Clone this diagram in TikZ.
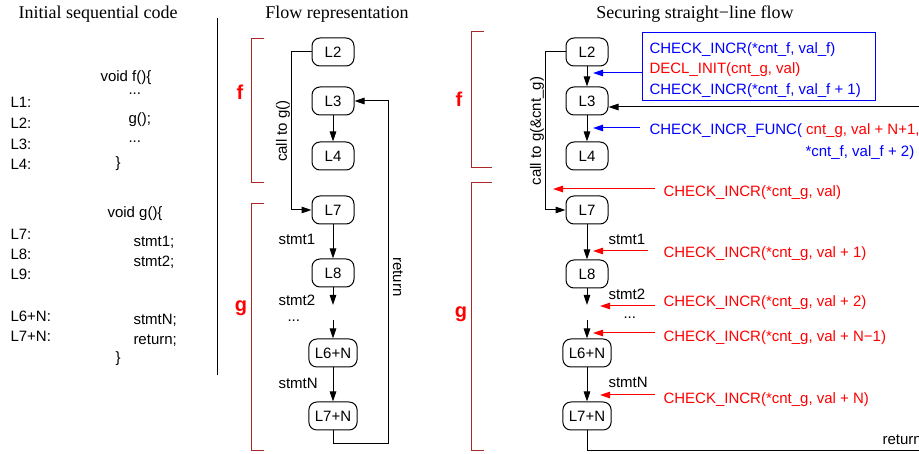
\documentclass[tikz,border=0pt]{standalone}
\usepackage{fontspec}
\setmainfont{Liberation Serif}
\setsansfont{Liberation Sans}
\usetikzlibrary{arrows.meta}
\definecolor{chkblue}{RGB}{0,0,255}
\definecolor{chkred}{RGB}{255,0,0}
\definecolor{brace}{RGB}{170,40,40}
\begin{document}
\begin{tikzpicture}[x=1pt,y=-1pt,line width=1pt,font=\sffamily\fontsize{15}{18}\selectfont,
main/.style={draw,rounded corners=8pt,minimum width=42pt,minimum height=28pt,inner sep=6pt},
txt/.style={inner sep=0pt,anchor=base west},
ttl/.style={font=\rmfamily\fontsize{18}{20}\selectfont,anchor=base},
fn/.style={font=\sffamily\bfseries\fontsize{20}{22}\selectfont,text=chkred,anchor=base},
br/.style={draw=brace,line width=1pt},
flow/.style={-{Triangle[length=10pt,width=6.5pt]}},
chk/.style={-{Triangle[length=10pt,width=6.5pt]},line width=1pt}]
\useasboundingbox (0,0) rectangle (919,454);
\node[ttl] (t1) at (98,19) {Initial sequential code};
\node[ttl] (t2) at (337,19) {Flow representation};
\node[ttl] (t3) at (695,19) {Securing straight−line flow};
\foreach \lbl/\yy in {L1/108,L2/129,L3/150,L4/170,L7/240,L8/260,L9/280,L6+N/322,L7+N/342}
  \node[txt] (lab\yy) at (10,\yy) {\lbl:};
\node[txt] (fhead) at (100,82) {void f()\{};
\node[txt] (fdots1) at (128,95) {...};
\node[txt] (fcall) at (128,124) {g();};
\node[txt] (fdots2) at (128,143) {...};
\node[txt] (fend) at (115,168) {\}};
\node[txt] (ghead) at (107,218) {void g()\{};
\node[txt] (gs1) at (133,247) {stmt1;};
\node[txt] (gs2) at (133,267) {stmt2;};
\node[txt] (gsn) at (133,325) {stmtN;};
\node[txt] (gret) at (133,345) {return;};
\node[txt] (gend) at (115,363) {\}};
\draw (217,18) -- (217,375);
\node[main] (a2) at (333,52) {L2};
\node[main] (a3) at (333,101) {L3};
\node[main] (a4) at (333,156) {L4};
\node[main] (a7) at (333,210) {L7};
\node[main] (a8) at (333,273) {L8};
\node[main] (a6n) at (333,353) {L6+N};
\node[main] (a7n) at (333,416) {L7+N};
\coordinate (a8e) at (333,305);
\coordinate (a6s) at (333,320);
\coordinate (aret) at (388,443);
\draw[flow] (a2.west) -- ++(-20,0) |- node[pos=0.25,rotate=90,anchor=south,inner sep=1pt] (acall) {call to g()} (a7.west);
\draw[flow] (a3) -- (a4);
\draw[flow] (a7) -- (a8);
\draw[flow] (a8) -- (a8e);
\draw[flow] (a6s) -- (a6n);
\draw[flow] (a6n) -- (a7n);
\draw[flow] (a7n) |- (aret) |- (a3);
\node[rotate=-90,inner sep=0pt] (aretl) at (398,277) {return};
\node[txt] (as1) at (278,245) {stmt1};
\node[txt] (as2) at (278,306) {stmt2};
\node[txt] (adots) at (287,322) {...};
\node[txt] (asn) at (278,389) {stmtN};
\draw[br] (264,39) -- (251,39) -- (251,183) -- (264,183);
\draw[br] (264,204) -- (251,204) -- (251,450) -- (264,450);
\node[fn] (af) at (240,100) {f};
\node[fn] (ag) at (241,312) {g};
\node[main] (b2) at (587,52) {L2};
\node[main] (b3) at (587,101) {L3};
\node[main] (b4) at (587,156) {L4};
\node[main] (b7) at (587,210) {L7};
\node[main] (b8) at (587,274) {L8};
\node[main] (b6n) at (587,353) {L6+N};
\node[main] (b7n) at (587,416) {L7+N};
\coordinate (b8e) at (587,305);
\coordinate (b6s) at (587,320);
\coordinate (bret) at (940,450);
\draw[flow] (b2.west) -- ++(-20,0) |- node[pos=0.25,rotate=90,anchor=south,inner sep=1pt] (bcall) {call to g(\&cnt\_g)} (b7.west);
\draw[flow] (b2) -- (b3);
\draw[flow] (b3) -- (b4);
\draw[flow] (b7) -- (b8);
\draw[flow] (b8) -- (b8e);
\draw[flow] (b6s) -- (b6n);
\draw[flow] (b6n) -- (b7n);
\draw[flow] (b7n) |- (bret) |- ([yshift=-6pt]b3.east);
\node[txt] (bretl) at (882,445) {return};
\node[txt] (bs1) at (608,245) {stmt1};
\node[txt] (bs2) at (608,300) {stmt2};
\node[txt] (bdots) at (623,319) {...};
\node[txt] (bsn) at (608,388) {stmtN};
\draw[br] (484,32) -- (471,32) -- (471,168) -- (492,168);
\draw[br] (492,183) -- (471,183) -- (471,450) -- (484,450);
\node[fn] (bf) at (459,107) {f};
\node[fn] (bg) at (461,318) {g};
\node[draw=chkblue,anchor=north west,minimum width=233pt,minimum height=68pt,inner sep=0pt] (chkbox) at (642,32) {};
\node[txt,text=chkblue] (c1) at (649,53.5) {CHECK\_INCR(*cnt\_f, val\_f)};
\node[txt,text=chkred] (c2) at (649,74) {DECL\_INIT(cnt\_g, val)};
\node[txt,text=chkblue] (c3) at (649,94.5) {CHECK\_INCR(*cnt\_f, val\_f + 1)};
\node[txt] (c4) at (649,135) {\color{chkblue}CHECK\_INCR\_FUNC( \color{chkred}cnt\_g, val + N+1,};
\node[txt,text=chkblue] (c5) at (805,156.5) {*cnt\_f, val\_f + 2)};
\coordinate (p1) at (593,73);
\coordinate (p2) at (593,128);
\draw[chk,chkblue] (p1 -| chkbox.west) -- (p1);
\draw[chk,chkblue,shorten <=9pt] (p2 -| c4.west) -- (p2);
\node[txt,text=chkred] (r1) at (663,196.5) {CHECK\_INCR(*cnt\_g, val)};
\node[txt,text=chkred] (r2) at (663,258) {CHECK\_INCR(*cnt\_g, val + 1)};
\node[txt,text=chkred] (r3) at (663,306.5) {CHECK\_INCR(*cnt\_g, val + 2)};
\node[txt,text=chkred] (r4) at (663,341.5) {CHECK\_INCR(*cnt\_g, val + N−1)};
\node[txt,text=chkred] (r5) at (663,403) {CHECK\_INCR(*cnt\_g, val + N)};
\coordinate (q1) at (553,189);
\coordinate (q2) at (593,251);
\coordinate (q3) at (600,306);
\coordinate (q4) at (593,333);
\coordinate (q5) at (600,395);
\draw[chk,chkred,shorten <=8pt] (q1 -| r1.west) -- (q1);
\draw[chk,chkred,shorten <=15pt] (q2 -| r2.west) -- (q2);
\draw[chk,chkred,shorten <=8pt] (q3 -| r3.west) -- (q3);
\draw[chk,chkred,shorten <=8pt] (q4 -| r4.west) -- (q4);
\draw[chk,chkred,shorten <=8pt] (q5 -| r5.west) -- (q5);
\end{tikzpicture}
\end{document}
